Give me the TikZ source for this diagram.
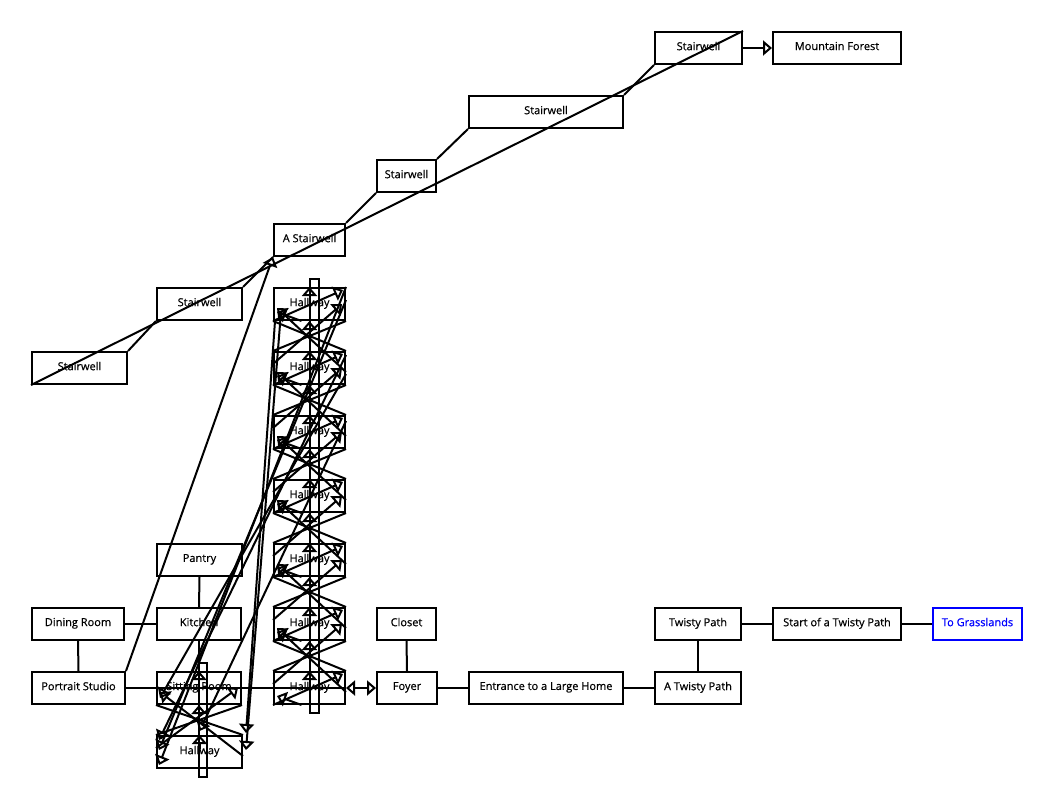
\documentclass[tikz,border=0pt]{standalone}
\usepackage{fontspec}
\setmainfont{Open Sans}[FakeBold=0.6]
\usetikzlibrary{arrows.meta,calc}
\newcommand\roomtext[1]{\raisebox{4pt}{#1}}
\begin{document}
\begin{tikzpicture}[x=1pt,y=-1pt,
  room/.style={draw, line width=2pt, minimum height=32pt, inner sep=0pt,
               font=\fontsize{11}{13}\selectfont},
  exitroom/.style={room, draw=blue, text=blue},
  link/.style={line width=2pt},
  tip/.style={link, -{Triangle[open,length=9pt,width=15pt]}},
  twotips/.style={link, {Triangle[open,length=9pt,width=15pt]}-{Triangle[open,length=9pt,width=15pt]}}]
\useasboundingbox (0,0) rectangle (1054,800);

% stairwell chain
\node[room, minimum width=87pt]  (sw5) at (698.5,48)  {\roomtext{Stairwell}};
\node[room, minimum width=128pt] (mf)  at (837,48)    {\roomtext{Mountain Forest}};
\node[room, minimum width=154pt] (sw4) at (546,112)   {\roomtext{Stairwell}};
\node[room, minimum width=59pt]  (sw3) at (406.5,176) {\roomtext{Stairwell}};
\node[room, minimum width=71pt]  (ast) at (309.5,240) {\roomtext{A Stairwell}};
\node[room, minimum width=85pt]  (sw2) at (199.5,304) {\roomtext{Stairwell}};
\node[room, minimum width=95pt]  (sw1) at (79.5,368)  {\roomtext{Stairwell}};

% hallway column
\foreach \i in {1,...,7}
  \node[room, minimum width=71pt] (h\i) at (309.5,{304+64*(\i-1)}) {\roomtext{Hallway}};

% house
\node[room, minimum width=85pt]  (pantry)   at (199.5,560) {\roomtext{Pantry}};
\node[room, minimum width=92pt]  (dining)   at (78,624)    {\roomtext{Dining Room}};
\node[room, minimum width=84pt]  (kitchen)  at (199,624)   {\roomtext{Kitchen}};
\node[room, minimum width=59pt]  (closet)   at (406.5,624) {\roomtext{Closet}};
\node[room, minimum width=93pt]  (portrait) at (78.5,688)  {\roomtext{Portrait Studio}};
\node[room, minimum width=84pt]  (sit)      at (199,688)   {\roomtext{Sitting Room}};
\node[room, minimum width=60pt]  (foyer)    at (407,688)   {\roomtext{Foyer}};
\node[room, minimum width=154pt] (entrance) at (546,688)   {\roomtext{Entrance to a Large Home}};
\node[room, minimum width=85pt]  (h8)       at (199.5,752) {\roomtext{Hallway}};

% twisty path
\node[room, minimum width=86pt]  (atwisty) at (698,688)   {\roomtext{A Twisty Path}};
\node[room, minimum width=86pt]  (twisty)  at (698,624)   {\roomtext{Twisty Path}};
\node[room, minimum width=128pt] (start)   at (837,624)   {\roomtext{Start of a Twisty Path}};
\node[exitroom, minimum width=89pt] (grass) at (977.5,624) {\roomtext{To Grasslands}};

% stairwell links
\draw[link] (sw1.north east) -- (sw2.south west);
\draw[link] (sw2.north east) -- (ast.south west);
\draw[link] (ast.north east) -- (sw3.south west);
\draw[link] (sw3.north east) -- (sw4.south west);
\draw[link] (sw4.north east) -- (sw5.south west);
\draw[link] (sw1.south west) -- (sw5.north east);
\draw[tip]  (sw5.east) -- (mf.west);
\draw[tip]  (portrait.north east) -- (ast.south west);

% house links
\draw[link] (dining.south) -- (portrait.north);
\draw[link] (dining.east) -- (kitchen.west);
\draw[link] (kitchen.north) -- (pantry.south);
\draw[link] (kitchen.south) -- (sit.north);
\draw[link] (portrait.east) -- (h7.east);
\draw[twotips] (h7.east) -- (foyer.west);
\draw[link] (foyer.north) -- (closet.south);
\draw[link] (foyer.east) -- (entrance.west);
\draw[link] (entrance.east) -- (atwisty.west);
\draw[link] (atwisty.north) -- (twisty.south);
\draw[link] (twisty.east) -- (start.west);
\draw[link] (start.east) -- (grass.west);

% up/down shafts
\draw[link] ($(h1.north)+(0,-8)$) rectangle ($(h7.south)+(9,8)$);
\draw[link] ($(sit.north)+(0,-8)$) rectangle ($(h8.south)+(7,8)$);

% hallway cross links
\foreach \a/\b in {h1/h2,h2/h3,h3/h4,h4/h5,h5/h6,h6/h7,sit/h8} {
  \draw[link] (\a.south west) -- (\b.north east);
  \draw[link] (\a.south east) -- (\b.north west);
  \draw[tip]  ($(\b.east)+(0,4)$) -- ($(\a.west)+(4,4)$);
  \draw[tip]  ($(\b.west)+(0,-4)$) -- ($(\a.east)+(-4,0)$);
  \draw[tip]  ($(\a.south)+(0,14)$) -- (\a.south);
  \draw[tip]  ($(\b.north)+(0,14)$) -- (\b.north);
}
\foreach \h in {h1,h2,h3,h4,h5,h6,h7} {
  \draw[tip] (\h.south west) -- ($(\h.north east)+(-3,3)$);
  \draw[tip] ($(\h.south)+(-8,0)$) -- ($(\h.west)+(4,8)$);
}
\draw[tip] ($(h1.north)+(0,14)$) -- (h1.north);
\draw[tip] ($(sit.north)+(0,14)$) -- (sit.north);

% long links down to the lower hallway
\draw[tip] (h1.north east) -- ($(h8.south west)+(3,-4)$);
\draw[tip] ($(h1.east)+(0,-4)$) -- ($(h8.west)+(3,-2)$);
\draw[tip] ($(h2.north east)+(0,4)$) -- ($(h8.west)+(3,-12)$);
\draw[tip] ($(h1.south west)+(2,0)$) -- ($(h8.north east)+(3,-2)$);
\draw[tip] ($(h1.west)+(8,8)$) -- ($(h8.east)+(3,-2)$);
\draw[tip] ($(h2.east)+(0,6)$) -- ($(sit.west)+(4,10)$);
\draw[tip] ($(h3.north east)+(0,6)$) -- ($(h8.north)+(0,-4)$);
\end{tikzpicture}
\end{document}
